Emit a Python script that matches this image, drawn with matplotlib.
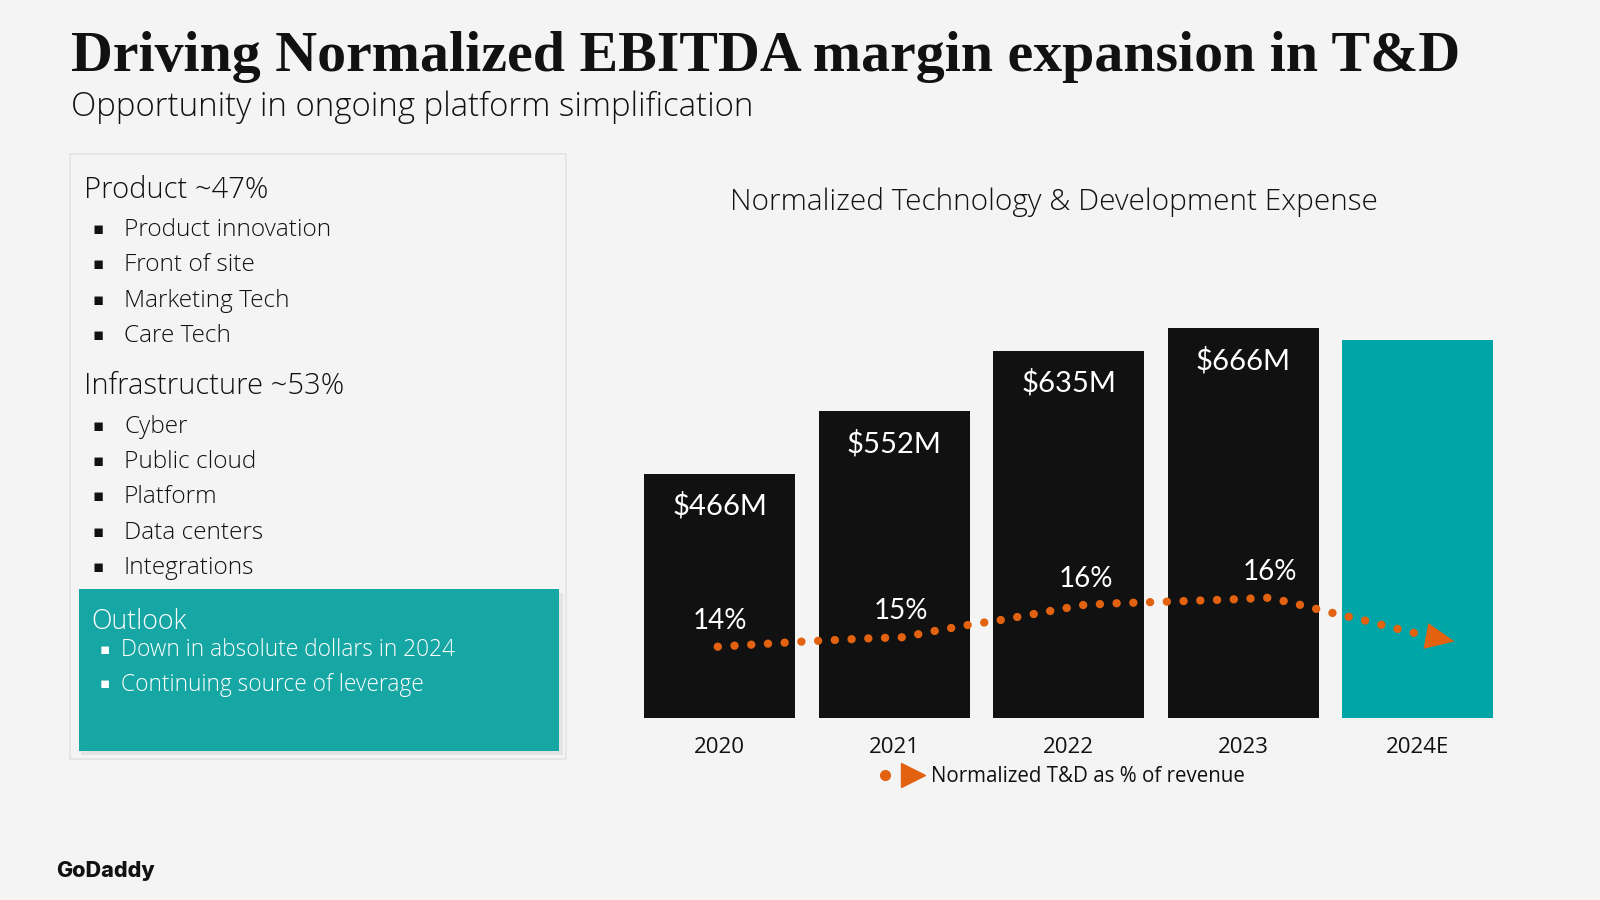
import numpy as np
import matplotlib.pyplot as plt
from matplotlib.patches import Rectangle
from matplotlib.lines import Line2D
from matplotlib.legend_handler import HandlerTuple

#-----------------------------------------------------------------------------
# Data

years = ['2020', '2021', '2022', '2023', '2024E']
expense = [466, 552, 635, 666, 650]          # $M, 2024E unlabeled (estimated)
expense_labels = ['$466M', '$552M', '$635M', '$666M', '']
pct_labels = ['14%', '15%', '16%', '16%']

# hand drawn trend arrow (x in category units, y on the % scale)
trend_x = [-0.01, 0.47, 0.85, 1.05, 1.23, 1.42, 1.61, 1.80, 2.08, 2.28,
           2.57, 2.95, 3.15, 3.33, 3.52, 3.70, 3.89, 4.07, 4.21]
trend_y = [13.97, 14.19, 14.33, 14.38, 14.65, 14.91, 15.13, 15.39, 15.78, 15.86,
           15.93, 16.03, 16.10, 15.78, 15.42, 15.10, 14.73, 14.40, 14.20]

product_items = ['Product innovation', 'Front of site', 'Marketing Tech', 'Care Tech']
infra_items = ['Cyber', 'Public cloud', 'Platform', 'Data centers', 'Integrations']
outlook_items = ['Down in absolute dollars in 2024', 'Continuing source of leverage']

#-----------------------------------------------------------------------------
# Styles

bg = '#f4f4f4'
ink = '#111111'
orange = '#e2620f'
teal_bar = '#00a5a7'
teal_box = '#16a6a4'
sans = ['Open Sans', 'DejaVu Sans']
narrow = ['Lato', 'DejaVu Sans']

plt.rcParams['font.family'] = sans

def fx(px):
    return px / 1600

def fy(py):
    return 1 - py / 900

fig = plt.figure(figsize=(16, 9), dpi=100, facecolor=bg)

# Titles
fig.text(fx(71), fy(71), 'Driving Normalized EBITDA margin expansion in T&D',
         family=['Liberation Serif', 'DejaVu Serif'], fontweight='bold',
         fontsize=41.7, color=ink, va='baseline')
fig.text(fx(71), fy(116), 'Opportunity in ongoing platform simplification',
         fontsize=23.8, fontweight='light', color=ink, va='baseline')

#-----------------------------------------------------------------------------
# Left panel

fig.patches.append(Rectangle((fx(70), fy(759)), fx(566) - fx(70), fy(154) - fy(759),
                             transform=fig.transFigure, facecolor=bg,
                             edgecolor='#e2e2e2', lw=1.2, zorder=0))

fig.text(fx(84), fy(190), 'Product ~47%', fontsize=21, fontweight='light',
         color=ink, va='center')
for i, item in enumerate(product_items):
    yy = 230 + i * 35.4
    fig.text(fx(93), fy(yy), '\u25aa', fontsize=12, color=ink, va='center')
    fig.text(fx(124), fy(yy), item, fontsize=17.6, fontweight='light', color=ink, va='center')

fig.text(fx(84), fy(386), 'Infrastructure ~53%', fontsize=21, fontweight='light',
         color=ink, va='center')
for i, item in enumerate(infra_items):
    yy = 427 + i * 35.2
    fig.text(fx(93), fy(yy), '\u25aa', fontsize=12, color=ink, va='center')
    fig.text(fx(124), fy(yy), item, fontsize=17.6, fontweight='light', color=ink, va='center')

# Outlook box with a soft shadow
fig.patches.append(Rectangle((fx(81), fy(755)), fx(561) - fx(79), fy(589) - fy(751),
                             transform=fig.transFigure, facecolor='#dcdcdc',
                             edgecolor='none', alpha=0.7, zorder=1))
fig.patches.append(Rectangle((fx(79), fy(751)), fx(559) - fx(79), fy(589) - fy(751),
                             transform=fig.transFigure, facecolor=teal_box,
                             edgecolor='none', zorder=2))
fig.text(fx(91), fy(622), 'Outlook', fontsize=19.3, fontweight='light', color='white', va='center')
for i, item in enumerate(outlook_items):
    yy = 650 + i * 34.6
    fig.text(fx(100), fy(yy), '\u25aa', fontsize=11, color='white', va='center')
    fig.text(fx(121), fy(yy), item, fontsize=16.4, fontweight='light', color='white', va='center')

# Logo text
fig.text(fx(56), fy(871), 'GoDaddy', family=['Inter', 'DejaVu Sans'], fontweight='heavy',
         fontsize=15.5, color=ink, va='center')

#-----------------------------------------------------------------------------
# Bar chart

fig.text(fx(1054), fy(202), 'Normalized Technology & Development Expense',
         fontsize=21.4, fontweight='light', color=ink, ha='center', va='center')

ax = fig.add_axes([fx(632.2), fy(718), 873 / 1600, 418 / 900])
ax.set_facecolor('none')
x = np.arange(len(years))
colors = [ink, ink, ink, ink, teal_bar]
ax.bar(x, expense, width=0.865, color=colors, zorder=2)
ax.set_xlim(-0.5, 4.5)
ax.set_ylim(131, 705)

for i, lab in enumerate(expense_labels):
    ax.text(i, expense[i] - 44, lab, ha='center', va='center', color='white',
            family=narrow, fontsize=21, zorder=3)

ax.set_xticks(x, years)
ax.tick_params(axis='x', length=0, pad=14, labelsize=16, labelcolor=ink)
ax.set_yticks([])
for s in ax.spines.values():
    s.set_visible(False)

# Trend arrow on its own % scale
ax2 = ax.twinx()
ax2.set_ylim(10.87, 29.04)
ax2.set_yticks([])
for s in ax2.spines.values():
    s.set_visible(False)

ax2.plot(trend_x[:-1], trend_y[:-1], color=orange, lw=6,
         linestyle=(0, (0.01, 2.0)), dash_capstyle='round', zorder=4)
ax2.annotate('', xy=(trend_x[-1], trend_y[-1]), xytext=(trend_x[-2], trend_y[-2]),
             arrowprops=dict(arrowstyle='-|>,head_length=1.0,head_width=0.45',
                             mutation_scale=21, color=orange, lw=0,
                             shrinkA=0, shrinkB=0), zorder=5)

pct_pos_x = [0.0, 0.04, 0.10, 0.15]
pct_pos_y = [15.1, 15.5, 16.9, 17.2]
for i, lab in enumerate(pct_labels):
    ax2.text(i + pct_pos_x[i], pct_pos_y[i], lab, ha='center', va='center',
             color='white', family=narrow, fontsize=20, zorder=5)

# Legend
dot = Line2D([], [], marker='o', ms=7, color=orange, ls='none')
tri = Line2D([], [], marker='>', ms=17, color=orange, ls='none')
fig.legend([(dot, tri)], ['Normalized T&D as % of revenue'],
           handler_map={tuple: HandlerTuple(ndivide=None, pad=0.2)},
           loc='center left', bbox_to_anchor=(fx(862), fy(777)), frameon=False,
           fontsize=14.8, handlelength=2.6, handletextpad=0.25, borderpad=0,
           labelcolor=ink)

fig.savefig('out.png', dpi=100, facecolor=bg)
